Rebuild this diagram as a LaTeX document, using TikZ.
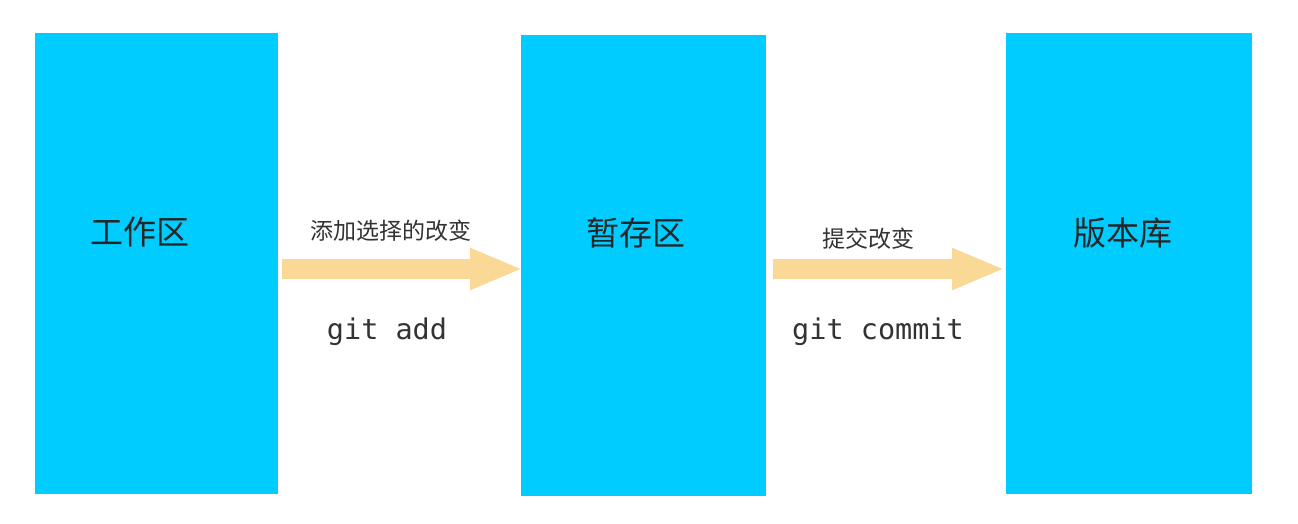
\documentclass[tikz,border=0pt]{standalone}
\usepackage{fontspec}
\usetikzlibrary{arrows.meta}
\newfontfamily\cjk{Noto Sans CJK SC}
\newfontfamily\monof{DejaVu Sans Mono}
\definecolor{boxcyan}{HTML}{00CCFF}
\definecolor{arrowor}{HTML}{FAD896}
\begin{document}
\begin{tikzpicture}[x=1pt,y=-1pt,
  stage/.style={fill=boxcyan,draw=none,minimum height=461pt,inner sep=0pt,anchor=north west},
  title/.style={font=\cjk\fontsize{33}{36}\selectfont,text=black!85},
  lab/.style={font=\cjk\fontsize{23}{26}\selectfont,text=black!80},
  cmd/.style={font=\monof\fontsize{28.5}{32}\selectfont,text=black!80},
  flow/.style={draw=arrowor,line width=20.5pt,-{Triangle[length=53pt,width=38pt]}}]
\useasboundingbox (0,0) rectangle (1298,524);
\fill[white] (0,0) rectangle (1298,524);
\node[stage,minimum width=243pt] (w) at (35,33) {};
\node[stage,minimum width=245pt] (s) at (521,35) {};
\node[stage,minimum width=246pt] (r) at (1006,33) {};
\node[title] at (140,232) {工作区};
\node[title] at (636,233) {暂存区};
\node[title] at (1123,233) {版本库};
\draw[flow] ([xshift=4pt]w.east |- 0,269) -- ([xshift=2pt]s.west |- 0,269);
\draw[flow] ([xshift=7pt]s.east |- 0,269) -- ([xshift=-1pt]r.west |- 0,269);
\node[lab] (l1) at (391,231) {添加选择的改变};
\node[lab] (l2) at (868,239) {提交改变};
\node[cmd] (c1) at (387,332) {git add};
\node[cmd] (c2) at (878,332) {git commit};
\end{tikzpicture}
\end{document}
